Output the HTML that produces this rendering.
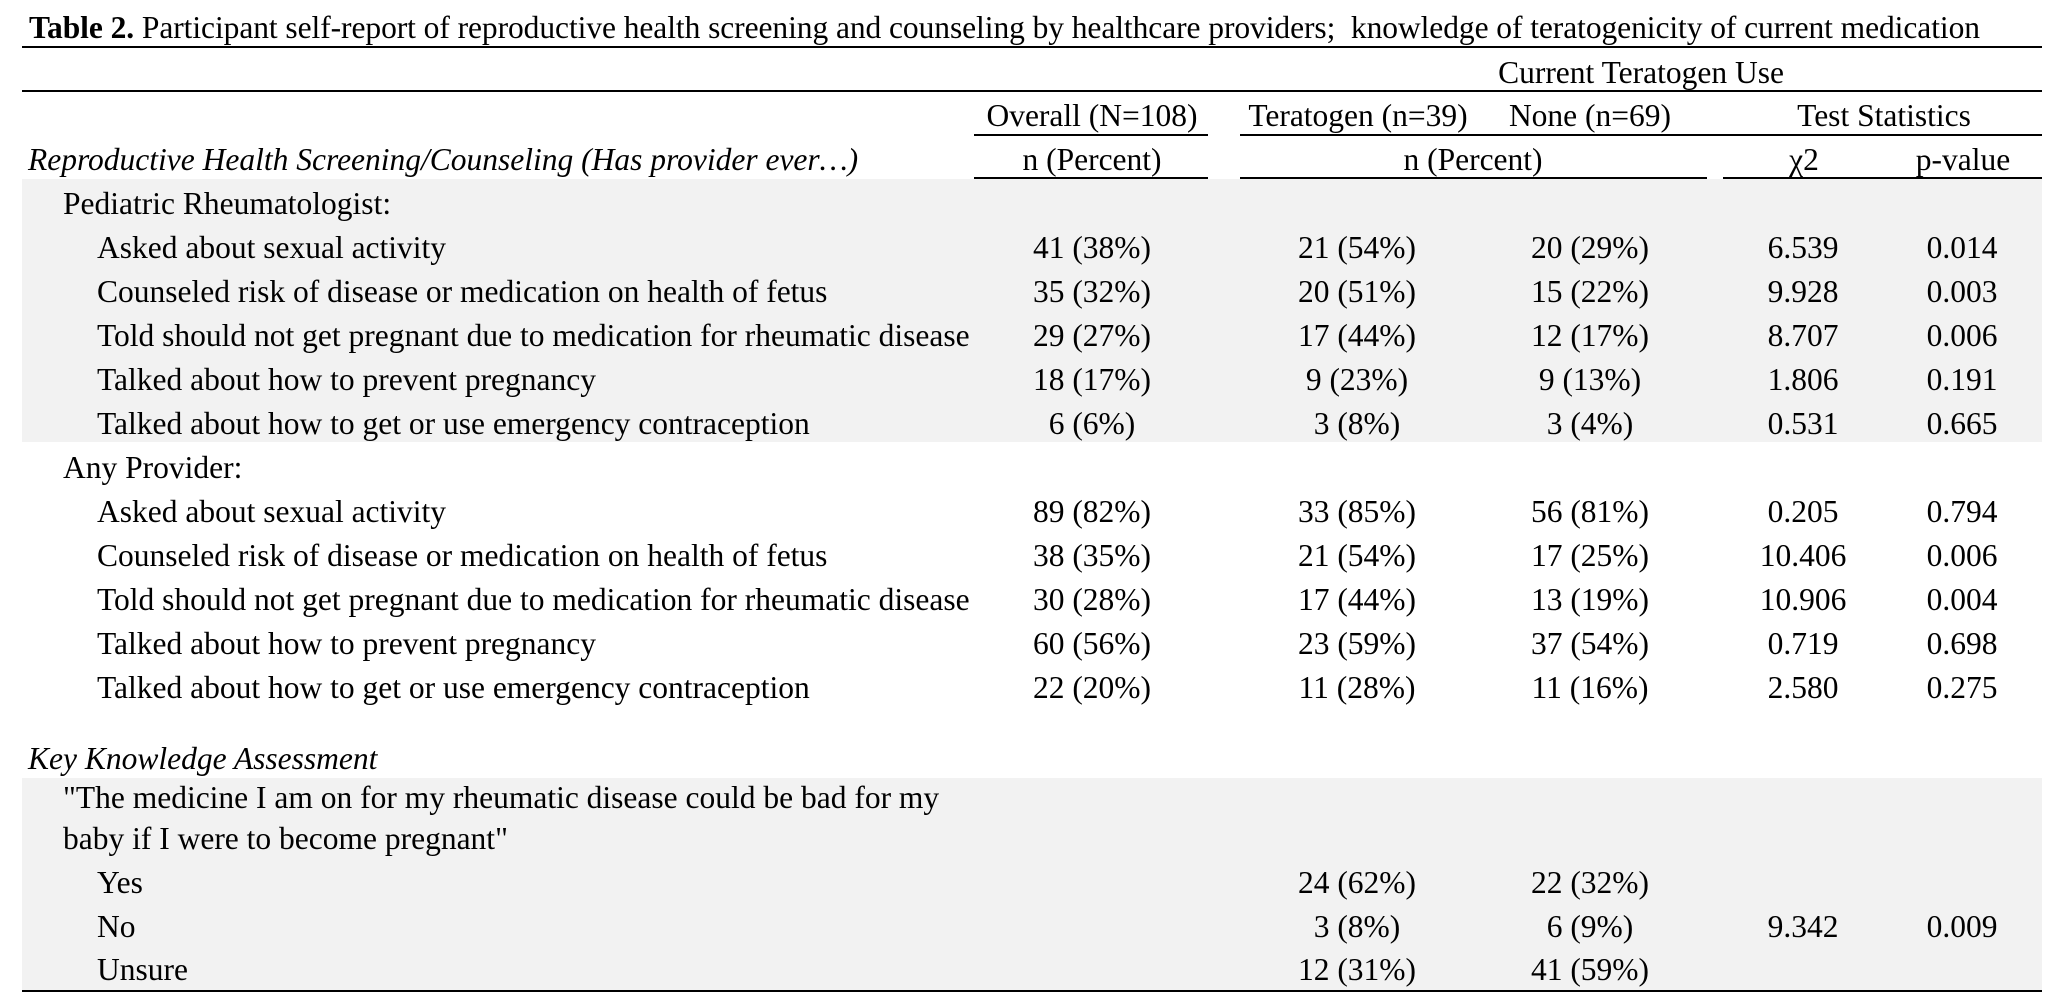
<!DOCTYPE html>
<html>
<head>
<meta charset="utf-8">
<style>
  html, body { margin: 0; padding: 0; background: #ffffff; }
  body { width: 2062px; height: 1006px; overflow: hidden; }
  svg { display: block; }
  text { font-family: "Liberation Serif", "Times New Roman", serif; font-size: 31.5px; fill: #000; }
  .c { text-anchor: middle; }
  .i { font-style: italic; }
</style>
</head>
<body>
<svg width="2062" height="1006" viewBox="0 0 2062 1006" xmlns="http://www.w3.org/2000/svg">
  <!-- grey bands -->
  <rect x="22" y="179" width="2020" height="263" fill="#f2f2f2"/>
  <rect x="22" y="778" width="2020" height="212" fill="#f2f2f2"/>

  <!-- title -->
  <text x="29" y="38" xml:space="preserve" textLength="1951" lengthAdjust="spacing"><tspan font-weight="bold">Table 2.</tspan> Participant self-report of reproductive health screening and counseling by healthcare providers;  knowledge of teratogenicity of current medication</text>
  <rect x="22" y="46" width="2020" height="2" fill="#000"/>

  <!-- header -->
  <text class="c" x="1641" y="83">Current Teratogen Use</text>
  <rect x="22" y="90" width="2020" height="2" fill="#000"/>

  <text class="c" x="1092" y="126">Overall (N=108)</text>
  <text class="c" x="1358" y="126">Teratogen (n=39)</text>
  <text class="c" x="1590" y="126">None (n=69)</text>
  <text class="c" x="1884" y="126">Test Statistics</text>
  <rect x="974" y="134" width="234" height="2" fill="#000"/>
  <rect x="1240" y="134" width="802" height="2" fill="#000"/>

  <text class="i" x="28" y="170">Reproductive Health Screening/Counseling (Has provider ever…)</text>
  <text class="c" x="1092" y="170">n (Percent)</text>
  <text class="c" x="1473" y="170">n (Percent)</text>
  <text class="c" x="1804" y="170">χ2</text>
  <text class="c" x="1963" y="170">p-value</text>
  <rect x="974" y="177" width="234" height="2" fill="#000"/>
  <rect x="1240" y="177" width="467" height="2" fill="#000"/>
  <rect x="1723" y="177" width="319" height="2" fill="#000"/>

  <!-- Pediatric Rheumatologist -->
  <text x="63" y="214">Pediatric Rheumatologist:</text>

  <text x="97" y="258">Asked about sexual activity</text>
  <text class="c" x="1092" y="258">41 (38%)</text>
  <text class="c" x="1357" y="258">21 (54%)</text>
  <text class="c" x="1590" y="258">20 (29%)</text>
  <text class="c" x="1803" y="258">6.539</text>
  <text class="c" x="1962" y="258">0.014</text>

  <text x="97" y="302">Counseled risk of disease or medication on health of fetus</text>
  <text class="c" x="1092" y="302">35 (32%)</text>
  <text class="c" x="1357" y="302">20 (51%)</text>
  <text class="c" x="1590" y="302">15 (22%)</text>
  <text class="c" x="1803" y="302">9.928</text>
  <text class="c" x="1962" y="302">0.003</text>

  <text x="97" y="346">Told should not get pregnant due to medication for rheumatic disease</text>
  <text class="c" x="1092" y="346">29 (27%)</text>
  <text class="c" x="1357" y="346">17 (44%)</text>
  <text class="c" x="1590" y="346">12 (17%)</text>
  <text class="c" x="1803" y="346">8.707</text>
  <text class="c" x="1962" y="346">0.006</text>

  <text x="97" y="390">Talked about how to prevent pregnancy</text>
  <text class="c" x="1092" y="390">18 (17%)</text>
  <text class="c" x="1357" y="390">9 (23%)</text>
  <text class="c" x="1590" y="390">9 (13%)</text>
  <text class="c" x="1803" y="390">1.806</text>
  <text class="c" x="1962" y="390">0.191</text>

  <text x="97" y="434">Talked about how to get or use emergency contraception</text>
  <text class="c" x="1092" y="434">6 (6%)</text>
  <text class="c" x="1357" y="434">3 (8%)</text>
  <text class="c" x="1590" y="434">3 (4%)</text>
  <text class="c" x="1803" y="434">0.531</text>
  <text class="c" x="1962" y="434">0.665</text>

  <!-- Any Provider -->
  <text x="63" y="478">Any Provider:</text>

  <text x="97" y="522">Asked about sexual activity</text>
  <text class="c" x="1092" y="522">89 (82%)</text>
  <text class="c" x="1357" y="522">33 (85%)</text>
  <text class="c" x="1590" y="522">56 (81%)</text>
  <text class="c" x="1803" y="522">0.205</text>
  <text class="c" x="1962" y="522">0.794</text>

  <text x="97" y="566">Counseled risk of disease or medication on health of fetus</text>
  <text class="c" x="1092" y="566">38 (35%)</text>
  <text class="c" x="1357" y="566">21 (54%)</text>
  <text class="c" x="1590" y="566">17 (25%)</text>
  <text class="c" x="1803" y="566">10.406</text>
  <text class="c" x="1962" y="566">0.006</text>

  <text x="97" y="610">Told should not get pregnant due to medication for rheumatic disease</text>
  <text class="c" x="1092" y="610">30 (28%)</text>
  <text class="c" x="1357" y="610">17 (44%)</text>
  <text class="c" x="1590" y="610">13 (19%)</text>
  <text class="c" x="1803" y="610">10.906</text>
  <text class="c" x="1962" y="610">0.004</text>

  <text x="97" y="654">Talked about how to prevent pregnancy</text>
  <text class="c" x="1092" y="654">60 (56%)</text>
  <text class="c" x="1357" y="654">23 (59%)</text>
  <text class="c" x="1590" y="654">37 (54%)</text>
  <text class="c" x="1803" y="654">0.719</text>
  <text class="c" x="1962" y="654">0.698</text>

  <text x="97" y="698">Talked about how to get or use emergency contraception</text>
  <text class="c" x="1092" y="698">22 (20%)</text>
  <text class="c" x="1357" y="698">11 (28%)</text>
  <text class="c" x="1590" y="698">11 (16%)</text>
  <text class="c" x="1803" y="698">2.580</text>
  <text class="c" x="1962" y="698">0.275</text>

  <!-- Key Knowledge -->
  <text class="i" x="28" y="769">Key Knowledge Assessment</text>
  <text x="63" y="808">"The medicine I am on for my rheumatic disease could be bad for my</text>
  <text x="63" y="849">baby if I were to become pregnant"</text>

  <text x="97" y="893">Yes</text>
  <text class="c" x="1357" y="893">24 (62%)</text>
  <text class="c" x="1590" y="893">22 (32%)</text>

  <text x="97" y="937">No</text>
  <text class="c" x="1357" y="937">3 (8%)</text>
  <text class="c" x="1590" y="937">6 (9%)</text>
  <text class="c" x="1803" y="937">9.342</text>
  <text class="c" x="1962" y="937">0.009</text>

  <text x="97" y="980">Unsure</text>
  <text class="c" x="1357" y="980">12 (31%)</text>
  <text class="c" x="1590" y="980">41 (59%)</text>

  <rect x="22" y="990" width="2020" height="2" fill="#000"/>
</svg>
</body>
</html>
